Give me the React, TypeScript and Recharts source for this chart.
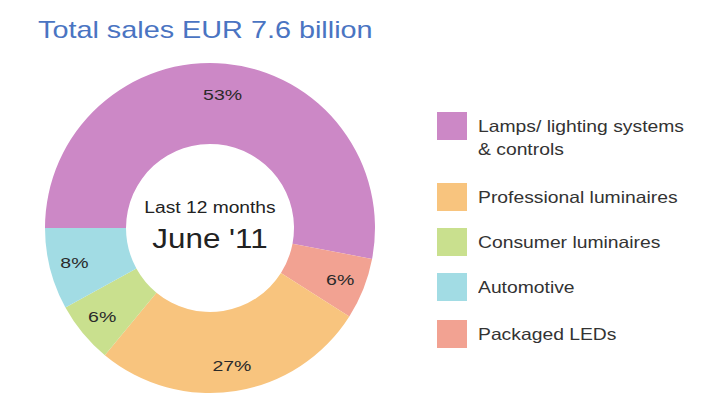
import { PieChart, Pie, Cell } from "recharts";

const segmentos = [
  "Lamps/ lighting systems & controls",
  "Packaged LEDs",
  "Professional luminaires",
  "Consumer luminaires",
  "Automotive",
];
const porcentajes = [53, 6, 27, 6, 8];
const colores = ["#cc88c6", "#f2a292", "#f8c47e", "#c9e08e", "#a2dce4"];

// orden de la leyenda (distinto al del anillo)
const ordenLeyenda = [0, 2, 3, 4, 1];

const datos = segmentos.map((nombre, i) => ({ nombre, valor: porcentajes[i] }));

const RAD = Math.PI / 180;
const fuente = "'Liberation Sans', Arial, sans-serif";
const CX = 210;
const CY = 228;

function EtiquetaSector(props: any) {
  const { cx, cy, midAngle, value } = props;
  const r = value > 50 ? 134 : 140;
  const x = cx + r * Math.cos(-midAngle * RAD);
  const y = cy + r * Math.sin(-midAngle * RAD);
  return (
    <text
      transform={`translate(${x},${y}) scale(1.3,1)`}
      textAnchor="middle"
      dominantBaseline="central"
      fontSize={15}
      fontFamily={fuente}
      fill="#2a2a2a"
    >
      {value}%
    </text>
  );
}

function Leyenda() {
  const alturas = [71, 45, 45, 47, 46];
  return (
    <div
      style={{
        position: "absolute",
        left: 437,
        top: 112,
        fontFamily: fuente,
        fontSize: 16.5,
        color: "#333",
      }}
    >
      {ordenLeyenda.map((i, k) => (
        <div
          key={segmentos[i]}
          style={{ display: "flex", alignItems: "flex-start", height: alturas[k] }}
        >
          <div
            style={{
              width: 30,
              height: 28,
              background: colores[i],
              flexShrink: 0,
              marginRight: 11,
            }}
          />
          <div
            style={{
              lineHeight: "23px",
              width: 180,
              marginTop: 3,
              transform: "scaleX(1.17)",
              transformOrigin: "left",
            }}
          >
            {segmentos[i]}
          </div>
        </div>
      ))}
    </div>
  );
}

export default function App() {
  return (
    <div
      style={{
        position: "absolute",
        left: 0,
        top: 0,
        width: 720,
        height: 405,
        background: "#fff",
      }}
    >
      <div
        style={{
          position: "absolute",
          left: 38,
          top: 16,
          fontFamily: fuente,
          fontSize: 24,
          color: "#4a74c2",
          whiteSpace: "nowrap",
          transform: "scaleX(1.2)",
          transformOrigin: "left",
        }}
      >
        Total sales EUR 7.6 billion
      </div>
      <PieChart
        width={720}
        height={405}
        margin={{ top: 0, right: 0, bottom: 0, left: 0 }}
        style={{ position: "absolute", left: 0, top: 0 }}
      >
        <Pie
          data={datos}
          dataKey="valor"
          nameKey="nombre"
          cx={CX}
          cy={CY}
          innerRadius={84}
          outerRadius={165}
          startAngle={180}
          endAngle={-180}
          stroke="none"
          label={EtiquetaSector}
          labelLine={false}
          isAnimationActive={false}
        >
          {datos.map((d, i) => (
            <Cell key={d.nombre} fill={colores[i]} />
          ))}
        </Pie>
      </PieChart>
      <div
        style={{
          position: "absolute",
          left: CX - 80,
          width: 160,
          top: 197,
          textAlign: "center",
          fontFamily: fuente,
          color: "#222",
        }}
      >
        <div style={{ fontSize: 16, lineHeight: "22px", transform: "scaleX(1.2)" }}>
          Last 12 months
        </div>
        <div
          style={{
            fontSize: 28,
            lineHeight: "34px",
            marginTop: 3,
            transform: "scaleX(1.12)",
          }}
        >
          June '11
        </div>
      </div>
      <Leyenda />
    </div>
  );
}
